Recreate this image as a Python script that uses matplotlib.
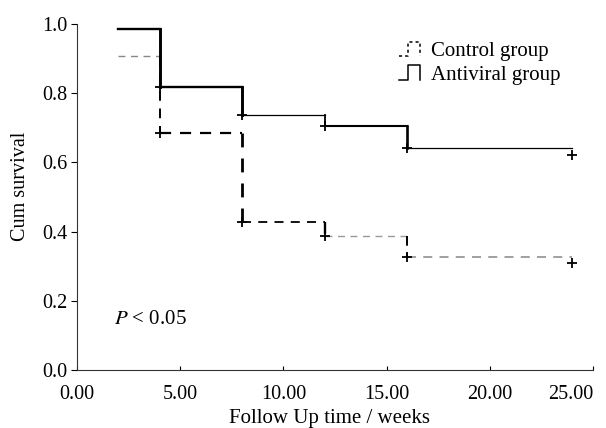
import matplotlib
matplotlib.use("Agg")
import matplotlib.pyplot as plt
from matplotlib.legend_handler import HandlerBase
from matplotlib.lines import Line2D

plt.rcParams['font.family'] = ['Liberation Serif', 'DejaVu Serif']
plt.rcParams['mathtext.fontset'] = 'stix'

# Kaplan-Meier step data (weeks, cumulative survival)
antiviral_t = [2, 4, 8, 12, 16, 24]
antiviral_s = [0.986, 0.819, 0.737, 0.706, 0.642, 0.642]
antiviral_cens_t = [4, 8, 12, 16, 24]
antiviral_cens_s = [0.819, 0.737, 0.706, 0.642, 0.622]

control_t = [2, 4, 8, 12, 16, 24]
control_s = [0.906, 0.686, 0.429, 0.387, 0.326, 0.326]
control_cens_t = [4, 8, 12, 16, 24]
control_cens_s = [0.686, 0.429, 0.387, 0.326, 0.310]

x_ticks = [0, 5, 10, 15, 20, 25]
y_ticks = [0.0, 0.2, 0.4, 0.6, 0.8, 1.0]

# per-segment styling (as seen in the scanned figure)
anti_lw = [1.7, 1.7, 0.9, 1.5, 0.9]
ctrl_col = ['#888888', 'black', 'black', '#999999', '#999999']
ctrl_lw = [1.0, 1.6, 1.3, 1.0, 1.3]

fig = plt.figure(figsize=(6.06, 4.28), dpi=100)
ax = fig.add_axes([0.127, 0.1355, 0.8515, 0.8085])


def draw_steps(t, s, cols, lws, ls):
    for i in range(len(t) - 1):
        ax.plot([t[i], t[i + 1]], [s[i], s[i]], color=cols[i], lw=lws[i], ls=ls)
        if i + 1 < len(t) - 1:
            ax.plot([t[i + 1], t[i + 1]], [s[i], s[i + 1]], color='black', lw=lws[i] + 0.4, ls=ls)


draw_steps(control_t, control_s, ctrl_col, ctrl_lw, (0, (5, 4)))
draw_steps(antiviral_t, antiviral_s, ['black'] * 5, anti_lw, '-')
ax.plot(antiviral_cens_t, antiviral_cens_s, ls='none', marker='+', color='black', ms=7, mew=1.3)
ax.plot(control_cens_t, control_cens_s, ls='none', marker='+', color='black', ms=7, mew=1.3)

ax.set_xlim(0, 25)
ax.set_ylim(0, 1.0)
ax.set_xticks(x_ticks)
ax.set_xticklabels(['%.2f' % v for v in x_ticks])
ax.set_yticks(y_ticks)
ax.set_yticklabels(['%.1f' % v for v in y_ticks])
ax.tick_params(axis='x', direction='in', length=3, labelsize=14.5, pad=11)
ax.tick_params(axis='y', direction='out', length=4, labelsize=14.5, pad=3)
# last x label sits at the figure edge, nudge it inside
ax.get_xticklabels()[-1].set_horizontalalignment('right')
ax.get_xticklabels()[-1].set_x(25.6)
ax.spines['top'].set_visible(False)
ax.spines['right'].set_visible(False)
ax.spines['left'].set_color('#333333')
ax.spines['bottom'].set_color('#333333')

ax.set_xlabel('Follow Up time / weeks', fontsize=15, va='center')
ax.xaxis.set_label_coords(0.49, -0.14)
ax.set_ylabel('Cum survival', fontsize=14.5, va='center')
ax.yaxis.set_label_coords(-0.11, 0.532)

ax.text(1.8, 0.147, '$P$ < 0.05', fontsize=15, va='center')


class StepHandler(HandlerBase):
    def __init__(self, ls):
        super().__init__()
        self.ls = ls

    def create_artists(self, legend, orig_handle, xd, yd, w, h, fontsize, trans):
        xs = [0, 0.4 * w, 0.4 * w, 0.9 * w, 0.9 * w]
        ys = [0, 0, h, h, 0]
        ln = Line2D([x - xd for x in xs], [y - yd for y in ys], color='black', lw=1.1, ls=self.ls,
                    transform=trans)
        return [ln]


h_ctrl = Line2D([], [], color='black', ls='--')
h_anti = Line2D([], [], color='black', ls='-')
ax.legend([h_ctrl, h_anti], ['Control group', 'Antiviral group'],
          handler_map={h_ctrl: StepHandler((0, (2, 2))), h_anti: StepHandler('-')},
          loc='upper left', bbox_to_anchor=(0.592, 0.997), frameon=False,
          fontsize=15, handlelength=1.1, handletextpad=0.45, labelspacing=0.2,
          borderpad=0.3)

plt.savefig('out.png', dpi=100)
